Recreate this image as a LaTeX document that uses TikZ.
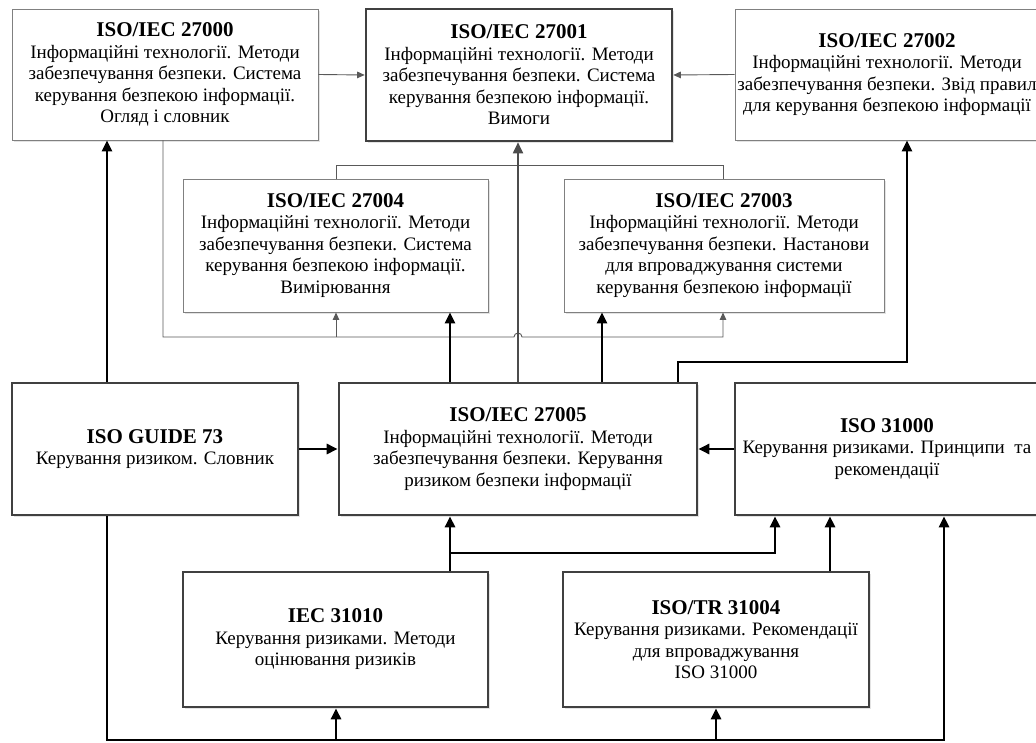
\documentclass[tikz,border=0pt]{standalone}
\usepackage{fontspec}
\setmainfont{Liberation Serif}
\usetikzlibrary{arrows.meta,shadows}
\newcommand\boxtitle{\fontsize{21}{21.5}\selectfont\bfseries}
\tikzset{
  basebox/.style={rectangle, align=center, inner sep=0pt, fill=white,
    font=\fontsize{19}{21.5}\selectfont,
    drop shadow={shadow xshift=2pt, shadow yshift=-2pt, opacity=0.22}},
  thinbox/.style={basebox, draw=black!50, line width=0.9pt},
  thickbox/.style={basebox, draw=black!75, line width=2.6pt},
  thinarrow/.style={draw=black!65, line width=0.9pt, -{Triangle[length=7.5pt,width=6.5pt]}},
  thinplain/.style={draw=black!65, line width=0.9pt},
  midarrow/.style={draw=black!70, line width=1.8pt, -{Triangle[length=11pt,width=10pt]}},
  thickarrow/.style={draw=black, line width=2.6pt, -{Triangle[length=11pt,width=10pt]}},
}
\begin{document}
\begin{tikzpicture}[x=1pt,y=-1pt]
\useasboundingbox (0,0) rectangle (1036,743);
\fill[white] (0,0) rectangle (1036,743);
% column and row guides
\coordinate (xa) at (107,0);
\coordinate (xb) at (163,0);
\coordinate (xc) at (336,0);
\coordinate (xd) at (450,0);
\coordinate (xf) at (602,0);
\coordinate (xg) at (678,0);
\coordinate (xh) at (723,0);
\coordinate (xi) at (907,0);
\coordinate (xj) at (775,0);
\coordinate (xk) at (830,0);
\coordinate (xl) at (716,0);
\coordinate (xm) at (944,0);
\coordinate (r165) at (0,165);
\coordinate (r337) at (0,337);
\coordinate (r362) at (0,362);
\coordinate (r553) at (0,553);
\coordinate (r740) at (0,740);
\coordinate (hopL) at (514,337);

% boxes
\node[thinbox, minimum width=306, minimum height=131] (s0) at (165,74.5)
  {{\boxtitle ISO/IEC 27000}\\Інформаційні технології. Методи\\забезпечування безпеки. Система\\керування безпекою інформації.\\Огляд і словник};
\node[thickbox, minimum width=306, minimum height=132] (s1) at (519,75)
  {{\boxtitle ISO/IEC 27001}\\Інформаційні технології. Методи\\забезпечування безпеки. Система\\керування безпекою інформації.\\Вимоги};
\node[thinbox, minimum width=304, minimum height=131] (s2) at (887,74.5)
  {{\boxtitle ISO/IEC 27002}\\Інформаційні технології. Методи\\забезпечування безпеки. Звід правил\\для керування безпекою інформації};
\node[thinbox, minimum width=305, minimum height=133] (s4) at (335.5,245.5)
  {{\boxtitle ISO/IEC 27004}\\Інформаційні технології. Методи\\забезпечування безпеки. Система\\керування безпекою інформації.\\Вимірювання};
\node[thinbox, minimum width=320, minimum height=133] (s3) at (724,245.5)
  {{\boxtitle ISO/IEC 27003}\\Інформаційні технології. Методи\\забезпечування безпеки. Настанови\\для впроваджування системи\\керування безпекою інформації};
\node[thickbox, minimum width=286, minimum height=132] (g) at (155,449)
  {{\boxtitle ISO GUIDE 73}\\Керування ризиком. Словник};
\node[thickbox, minimum width=358, minimum height=132] (s5) at (518,449)
  {{\boxtitle ISO/IEC 27005}\\Інформаційні технології. Методи\\забезпечування безпеки. Керування\\ризиком безпеки інформації};
\node[thickbox, minimum width=304, minimum height=132] (r31) at (887,449)
  {{\boxtitle ISO 31000}\\Керування ризиками. Принципи\ \ та\\рекомендації};
\node[thickbox, minimum width=305, minimum height=135] (i310) at (335.5,639.5)
  {{\boxtitle IEC 31010}\\Керування ризиками. Методи\\оцінювання ризиків};
\node[thickbox, minimum width=306, minimum height=135] (t314) at (716,639.5)
  {{\boxtitle ISO/TR 31004}\\Керування ризиками. Рекомендації\\для впроваджування\\ISO 31000};

% thin connectors
\draw[thinarrow] (s0.east) -- (s1.west);
\draw[thinarrow] (s2.west) -- (s1.east);
\draw[thinarrow] (s0.south -| xb) -- (xb |- r337) -- (hopL)
  arc[start angle=180, end angle=360, radius=4] -- (xh |- r337) -- (s3.south -| xh);
\draw[thinarrow] (xc |- r337) -- (s4.south -| xc);
\draw[thinplain] (s4.north -| xc) -- (xc |- r165) -- (xh |- r165) -- (s3.north -| xh);
\draw[midarrow] (s5.north) -- (s5.north |- s1.south);

% thick connectors
\draw[thickarrow] (g.north -| xa) -- (s0.south -| xa);
\draw[thickarrow] (g.east) -- (s5.west);
\draw[thickarrow] (r31.west) -- (s5.east);
\draw[thickarrow] (s5.north -| xd) -- (s4.south -| xd);
\draw[thickarrow] (s5.north -| xf) -- (s3.south -| xf);
\draw[thickarrow] (s5.north -| xg) -- (xg |- r362) -- (xi |- r362) -- (s2.south -| xi);
\draw[thickarrow] (i310.north -| xd) -- (s5.south -| xd);
\draw[thickarrow] (xd |- r553) -- (xj |- r553) -- (r31.south -| xj);
\draw[thickarrow] (t314.north -| xk) -- (r31.south -| xk);
\draw[thickarrow] (g.south -| xa) -- (xa |- r740) -- (xm |- r740) -- (r31.south -| xm);
\draw[thickarrow] (xc |- r740) -- (i310.south -| xc);
\draw[thickarrow] (xl |- r740) -- (t314.south -| xl);
\end{tikzpicture}
\end{document}
